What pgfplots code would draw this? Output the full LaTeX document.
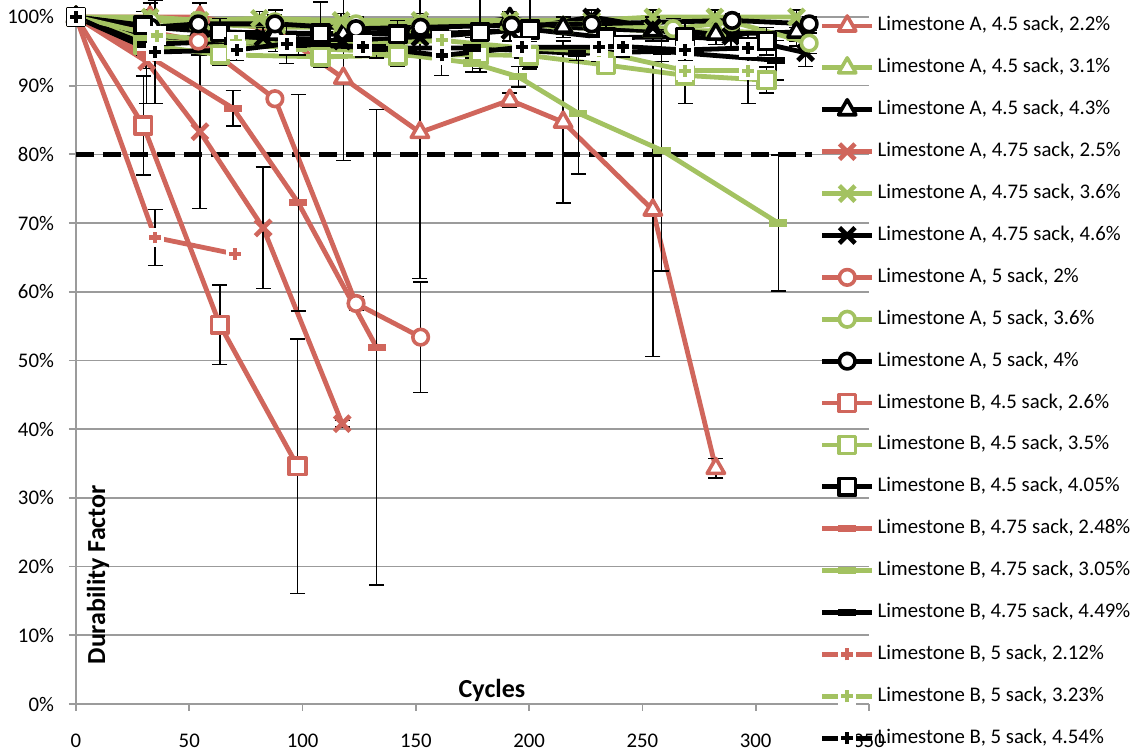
\documentclass[border=0pt]{standalone}
\usepackage{fontspec}
\setmainfont{Carlito}
\usepackage{pgfplots}
\pgfplotsset{compat=1.18}
\definecolor{cR}{RGB}{208,102,92}
\definecolor{cG}{RGB}{163,194,97}
\definecolor{gridc}{RGB}{155,155,155}
\makeatletter
\pgfdeclareplotmark{wplus}{%
 \pgfpathrectangle{\pgfqpoint{-\pgfplotmarksize}{-\pgfplotmarksize}}{\pgfqpoint{2\pgfplotmarksize}{2\pgfplotmarksize}}%
 \pgfsetfillcolor{white}\pgfusepathqfill
 \pgfsetlinewidth{0.45\pgfplotmarksize}\pgfsetbuttcap
 \pgfpathmoveto{\pgfqpoint{-0.65\pgfplotmarksize}{0pt}}\pgfpathlineto{\pgfqpoint{0.65\pgfplotmarksize}{0pt}}%
 \pgfpathmoveto{\pgfqpoint{0pt}{-0.65\pgfplotmarksize}}\pgfpathlineto{\pgfqpoint{0pt}{0.65\pgfplotmarksize}}%
 \pgfusepathqstroke}
\pgfdeclareplotmark{xdash}{%
 \pgfpathrectangle{\pgfqpoint{-\pgfplotmarksize}{-0.4\pgfplotmarksize}}{\pgfqpoint{2\pgfplotmarksize}{0.8\pgfplotmarksize}}%
 \pgfusepathqfill}
\makeatother
\pgfplotsset{
 every x tick label/.append style={yshift=-8pt},
 every y tick label/.append style={xshift=-4pt},
 ser/.style={solid, line width=2.4pt, line join=round, mark size=4pt,
   mark options={solid, line width=1.8pt, fill=white},
   error bars/y dir=both, error bars/y explicit,
   error bars/error bar style={black, line width=0.75pt, solid},
   error bars/error mark options={black, line width=0.75pt, mark size=3.75pt, rotate=90}},
 tri/.style={ser, mark=triangle*, mark size=5pt},
 crs/.style={ser, mark=x, mark size=5.5pt, mark options={solid, line width=2.3pt}},
 cir/.style={ser, mark=*, mark size=3.9pt},
 sqr/.style={ser, mark=square*, mark size=4.2pt},
 dsh/.style={ser, mark=xdash, mark size=4.5pt, mark options={solid, fill=#1, draw=none}},
 pls/.style={ser, mark=wplus, mark size=4.6pt, mark options={solid, fill=white}},
}
\begin{document}
\begin{tikzpicture}
\path[use as bounding box] (-38pt,-24.5pt) rectangle (535.5pt,352pt);
\begin{axis}[
 at={(0pt,0pt)}, anchor=south west,
 scale only axis, width=396.5pt, height=343.5pt,
 xmin=0, xmax=350, ymin=0, ymax=100,
 xtick={0,50,...,350}, ytick={0,10,...,100},
 font=\fontsize{10.4}{12}\selectfont,
 axis lines=left, axis line style={-, gridc, line width=0.9pt},
 tick align=outside, major tick length=3.5pt,
 tick style={gridc, line width=0.9pt},
 ymajorgrids, major grid style={gridc, line width=0.8pt},
 clip=false,
 legend cell align=left,
 legend style={at={(0.938,1.0015)}, anchor=north west, draw=none, fill=none,
   inner sep=0pt, outer sep=0pt, row sep=10.95pt, column sep=1.5pt,
   font=\fontsize{10.4}{12}\selectfont,
   nodes={inner sep=0pt, text height=7.5pt, text depth=2.5pt}},
 legend image code/.code={\draw[mark=none] (0pt,0pt) -- (25pt,0pt); \draw plot coordinates {(12.5pt,0pt)};},
 yticklabel={\pgfmathprintnumber{\tick}\%},
 /pgf/number format/assume math mode=true,
]
\addplot[black, line width=2.5pt, dash pattern=on 9pt off 4.5pt, forget plot] coordinates {(0,80)(325,80)};

\addplot[tri, color=cR] coordinates {(0,100)+-(0,0) (32.7,100)+-(0,2) (54.7,100)+-(0,2) (88,98)+-(0,3) (118,91.1)+-(0,12) (151.8,83.2)+-(0,21.3) (191.5,87.9)+-(0,1) (215,84.7)+-(0,11.8) (254.6,71.9)+-(0,21.3) (282.4,34.3)+-(0,1.4)};
\addlegendentry{Limestone A, 4.5 sack, 2.2\%}
\addplot[tri, color=cG] coordinates {(0,100)+-(0,0) (32.7,99.5)+-(0,1) (54.7,99)+-(0,1) (88,98.5)+-(0,1) (118,98.5)+-(0,1) (151.8,98.5)+-(0,1) (191.5,99)+-(0,1) (215,98.5)+-(0,1) (254.6,98)+-(0,1) (282.4,98)+-(0,1) (318,97.5)+-(0,1)};
\addlegendentry{Limestone A, 4.5 sack, 3.1\%}
\addplot[tri, color=black] coordinates {(0,100)+-(0,0) (32.7,98.5)+-(0,1.5) (54.7,98)+-(0,1.5) (88,97.5)+-(0,1.5) (118,97.5)+-(0,1.5) (151.8,98)+-(0,1.5) (191.5,99.8)+-(0,1) (215,98.5)+-(0,1.5) (254.6,98)+-(0,1.5) (282.4,97.5)+-(0,1.5) (318,97.8)+-(0,2)};
\addlegendentry{Limestone A, 4.5 sack, 4.3\%}
\addplot[crs, color=cR] coordinates {(0,100)+-(0,0) (31.2,93.5)+-(0,6.1) (54.7,83.3)+-(0,11.2) (82.6,69.3)+-(0,8.85) (117.5,40.8)+-(0,0.5)};
\addlegendentry{Limestone A, 4.75 sack, 2.5\%}
\addplot[crs, color=cG] coordinates {(0,100)+-(0,0) (32.7,100)+-(0,1) (54.7,99.5)+-(0,1) (81,99.8)+-(0,1) (117,99.5)+-(0,1) (151.8,99.5)+-(0,1) (191.5,99.5)+-(0,1) (227.6,99.5)+-(0,1) (254.6,100)+-(0,1) (282,100)+-(0,1) (318,100)+-(0,1)};
\addlegendentry{Limestone A, 4.75 sack, 3.6\%}
\addplot[crs, color=black] coordinates {(0,100)+-(0,0) (31.2,97)+-(0,1.5) (54.7,97)+-(0,1.5) (82.6,97)+-(0,1.5) (117.5,96.5)+-(0,1.5) (151.8,97)+-(0,1.5) (191.5,98)+-(0,1.5) (227.6,100)+-(0,1) (254.6,98.5)+-(0,1.5) (289,97.2)+-(0,2) (322,94.8)+-(0,2)};
\addlegendentry{Limestone A, 4.75 sack, 4.6\%}
\addplot[cir, color=cR] coordinates {(0,100)+-(0,0) (54,96.5)+-(0,2) (87.8,88.1)+-(0,0.7) (123.6,58.3)+-(0,1) (152.1,53.4)+-(0,8.05)};
\addlegendentry{Limestone A, 5 sack, 2\%}
\addplot[cir, color=cG] coordinates {(0,100)+-(0,0) (33,99.5)+-(0,1) (54,99.5)+-(0,1) (87.8,99.3)+-(0,1) (123.6,99)+-(0,1) (152.1,99)+-(0,1) (192.3,99)+-(0,1) (227.6,99)+-(0,1) (263.6,98.3)+-(0,1.5) (289.6,99.3)+-(0,1) (323.6,96.2)+-(0,1.5)};
\addlegendentry{Limestone A, 5 sack, 3.6\%}
\addplot[cir, color=black] coordinates {(0,100)+-(0,0) (33,98.5)+-(0,1) (54,99)+-(0,1) (87.8,99)+-(0,1) (123.6,98.3)+-(0,1) (152.1,98.5)+-(0,1) (192.3,98.8)+-(0,1) (227.6,99)+-(0,1) (289.6,99.5)+-(0,1) (323.6,99)+-(0,1)};
\addlegendentry{Limestone A, 5 sack, 4\%}
\addplot[sqr, color=cR] coordinates {(0,100)+-(0,0) (29.7,84.2)+-(0,7.2) (63.5,55.2)+-(0,5.8) (97.8,34.6)+-(0,18.5)};
\addlegendentry{Limestone B, 4.5 sack, 2.6\%}
\addplot[sqr, color=cG] coordinates {(0,100)+-(0,0) (29.7,96)+-(0,1.5) (63.5,94.5)+-(0,1.5) (108,94.2)+-(0,1.5) (142,94.4)+-(0,1.5) (178,94.5)+-(0,2) (200,94.4)+-(0,2) (234,93)+-(0,1) (268.8,91.5)+-(0,4.1) (304.8,90.8)+-(0,1.9)};
\addlegendentry{Limestone B, 4.5 sack, 3.5\%}
\addplot[sqr, color=black] coordinates {(0,100)+-(0,0) (29.7,98.8)+-(0,2) (63.5,97.8)+-(0,2) (108,97.6)+-(0,4.6) (142,97.5)+-(0,2) (178.3,97.8)+-(0,5.8) (200.4,98.2)+-(0,5.5) (234,97)+-(0,2) (268.8,97.1)+-(0,2) (304.8,96.5)+-(0,2)};
\addlegendentry{Limestone B, 4.5 sack, 4.05\%}
\addplot[dsh=cR, color=cR] coordinates {(0,100)+-(0,0) (31,94.5)+-(0,2) (69.4,86.7)+-(0,2.6) (98.1,72.95)+-(0,15.75) (132.7,51.9)+-(0,34.6)};
\addlegendentry{Limestone B, 4.75 sack, 2.48\%}
\addplot[dsh=cG, color=cG] coordinates {(0,100)+-(0,0) (31,96.5)+-(0,1) (69.4,96)+-(0,1) (98.1,95.5)+-(0,1) (132.7,95)+-(0,1) (175,93.3)+-(0,1.3) (195.2,91.3)+-(0,1.5) (221.7,86)+-(0,8.85) (258.5,80.6)+-(0,17.6) (310,70)+-(0,9.9)};
\addlegendentry{Limestone B, 4.75 sack, 3.05\%}
\addplot[dsh=black, color=black] coordinates {(0,100)+-(0,0) (31,96)+-(0,1.5) (69.4,96.5)+-(0,1.5) (98.1,96)+-(0,1.5) (132.7,95.5)+-(0,1.5) (175,95.5)+-(0,1.5) (221,94.7)+-(0,1) (258.5,95)+-(0,1.5) (309,93.7)+-(0,2.9)};
\addlegendentry{Limestone B, 4.75 sack, 4.49\%}
\addplot[pls, color=cR] coordinates {(0,100)+-(0,0) (34.9,67.9)+-(0,4.1) (70.2,65.5)+-(0,1)};
\addlegendentry{Limestone B, 5 sack, 2.12\%}
\addplot[pls, color=cG] coordinates {(0,100)+-(0,0) (35.6,97.3)+-(0,1.5) (70.5,96.5)+-(0,1.5) (93,96)+-(0,1.5) (126.5,96)+-(0,1.5) (161.4,96.6)+-(0,1.5) (196.7,95.5)+-(0,1.5) (230.8,95)+-(0,1.5) (268.8,92.2)+-(0,1.5) (296.7,92.2)+-(0,4.8)};
\addlegendentry{Limestone B, 5 sack, 3.23\%}
\addplot[pls, color=black] coordinates {(0,100)+-(0,0) (34.9,94.9)+-(0,7.5) (70.9,95.2)+-(0,1.5) (93,96.1)+-(0,2.9) (126.5,95.7)+-(0,1.5) (161.4,94.4)+-(0,2.9) (196.7,95.6)+-(0,1.5) (230.8,95.6)+-(0,1.5) (241.3,95.7)+-(0,1.5) (268.8,95.2)+-(0,1.5) (296.7,95.5)+-(0,2)};
\addlegendentry{Limestone B, 5 sack, 4.54\%}

\node[font=\fontsize{13}{15}\selectfont\bfseries] at (axis cs:183.6,2.0) {Cycles};
\node[font=\fontsize{13}{15}\selectfont\bfseries, rotate=90] at (axis cs:9.7,18.8) {Durability Factor};
\end{axis}
\end{tikzpicture}
\end{document}
